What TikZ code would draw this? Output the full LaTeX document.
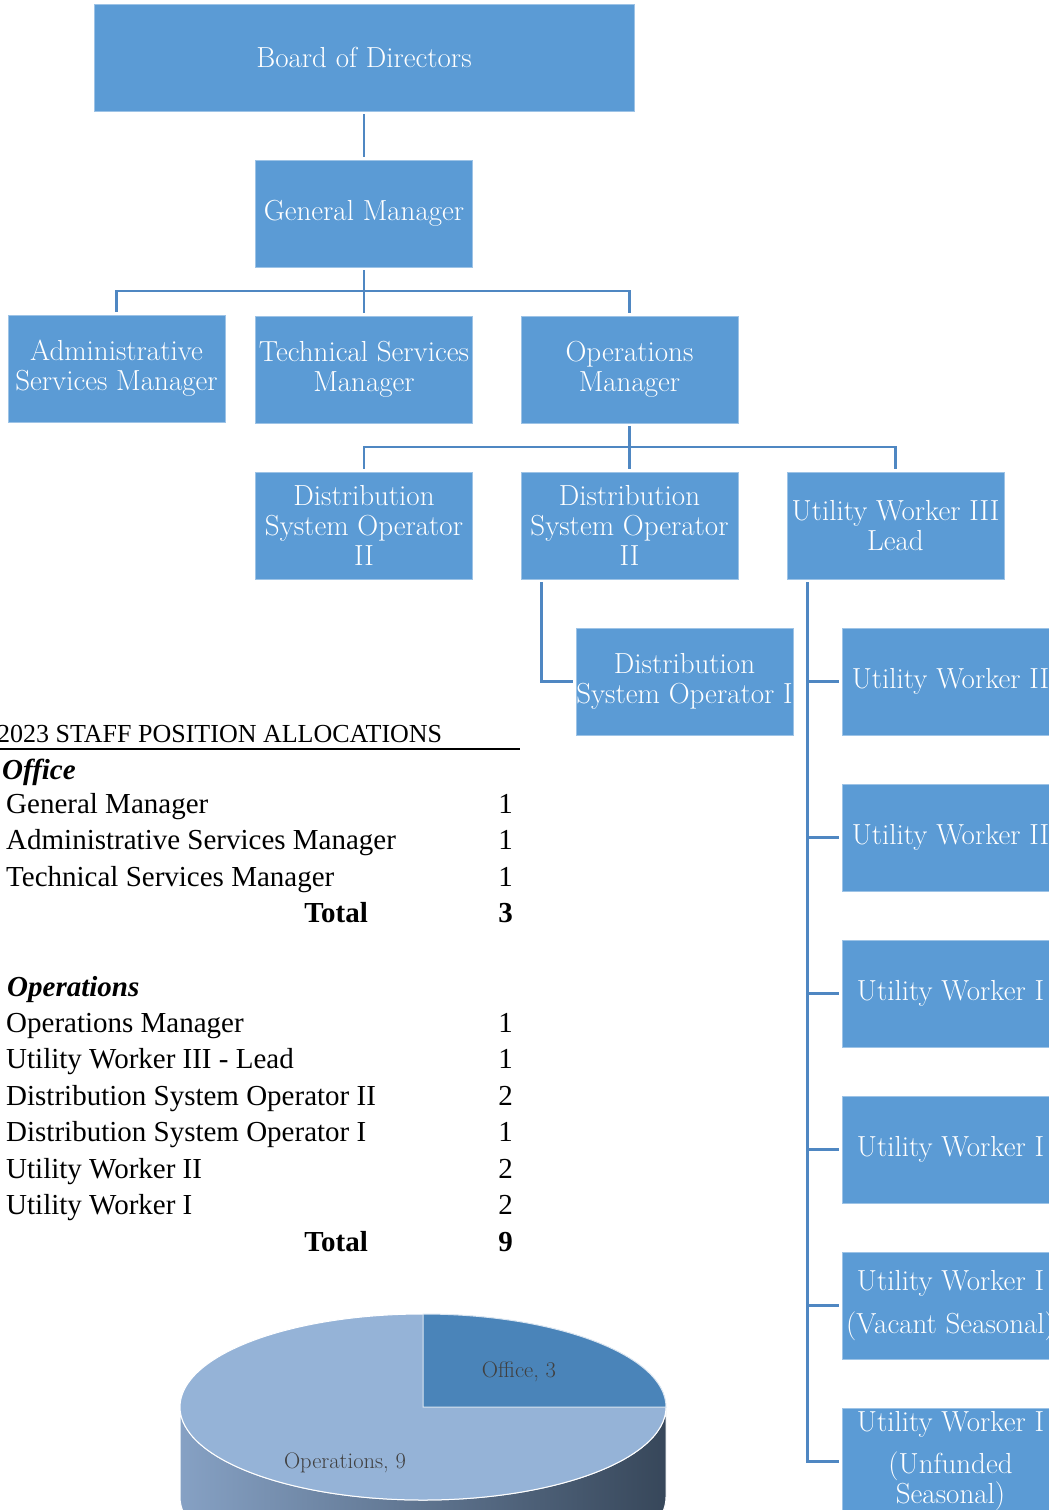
\documentclass[tikz,border=0pt]{standalone}
\usepackage{fontspec}
\newfontfamily\tabfont{Liberation Serif}
\usetikzlibrary{positioning}
\definecolor{boxblue}{HTML}{5B9BD5}
\definecolor{linkblue}{HTML}{4F87C2}
\definecolor{opsblue}{HTML}{95B3D7}
\definecolor{offblue}{HTML}{4A84B9}
\definecolor{sidelight}{HTML}{86A1C4}
\definecolor{sidedark}{HTML}{37475A}
\definecolor{labgray}{HTML}{404040}
\tikzset{
	posbox/.style  = {draw=boxblue!60!white, fill=boxblue, text=white, align=center,
		minimum width=217, minimum height=107, inner sep=0pt,
		font=\fontsize{29}{30}\selectfont},
	link/.style    = {draw=linkblue, line width=2.6pt, shorten <=3pt, shorten >=3pt},
	joint/.style   = {coordinate},
	row/.style     = {anchor=base west, inner sep=0pt, font=\tabfont\fontsize{29}{30}\selectfont},
	num/.style     = {anchor=base east, inner sep=0pt, font=\tabfont\fontsize{29}{30}\selectfont},
	pielabel/.style = {text=labgray, font=\fontsize{22.5}{26}\selectfont}
}

\begin{document}
\begin{tikzpicture}[x=1pt, y=-1pt]
	\useasboundingbox (0,0) rectangle (1049,1510);

	% chart boxes
	\node at (364,57.5)[posbox, minimum width=540] (board) {Board of Directors};
	\node at (364,213.5)[posbox] (gm) {General Manager};
	\node at (116.5,368.5)[posbox] (asm) {Administrative\\Services Manager};
	\node at (364,369.5)[posbox] (tsm) {Technical Services\\Manager};
	\node at (629.5,369.5)[posbox] (opsm) {Operations\\Manager};
	\node at (364,525.5)[posbox] (dsoa) {Distribution\\System Operator\\II};
	\node at (629.5,525.5)[posbox] (dsob) {Distribution\\System Operator\\II};
	\node at (895.5,525.5)[posbox] (uwlead) {Utility Worker III\\Lead};
	\node at (684.5,681.5)[posbox] (dsoi) {Distribution\\System Operator I};
	\node at (950.5,681.5)[posbox] (uwiia) {Utility Worker II};
	\node at (950.5,837.5)[posbox] (uwiib) {Utility Worker II};
	\node at (950.5,993.5)[posbox] (uwia) {Utility Worker I};
	\node at (950.5,1149.5)[posbox] (uwib) {Utility Worker I};
	\node at (950.5,1305.5)[posbox] (uwic) {Utility Worker I\\[13pt](Vacant Seasonal)};
	\node at (950.5,1461.5)[posbox] (uwid) {Utility Worker I\\[12pt](Unfunded\\Seasonal)};

	\node at (364,291)[joint] (bar1) {};
	\node at (629.5,447)[joint] (bar2) {};

	% connectors
	\draw[link] (board) -- (gm);
	\draw[link, shorten >=0pt] (gm) -- (bar1);
	\draw[link, shorten <=0pt] (bar1) -| (asm);
	\draw[link, shorten <=0pt] (bar1) -- (tsm);
	\draw[link, shorten <=0pt] (bar1) -| (opsm);
	\draw[link, shorten >=0pt] (opsm) -- (bar2);
	\draw[link, shorten <=0pt] (bar2) -| (dsoa);
	\draw[link, shorten <=0pt] (bar2) -- (dsob);
	\draw[link, shorten <=0pt] (bar2) -| (uwlead);
	\draw[link] ([xshift=-88]dsob.south) |- (dsoi);
	\draw[link] ([xshift=-88]uwlead.south) |- (uwiia);
	\draw[link] ([xshift=-88]uwlead.south) |- (uwiib);
	\draw[link] ([xshift=-88]uwlead.south) |- (uwia);
	\draw[link] ([xshift=-88]uwlead.south) |- (uwib);
	\draw[link] ([xshift=-88]uwlead.south) |- (uwic);
	\draw[link] ([xshift=-88]uwlead.south) |- (uwid);

	% allocation table
	\node at (-3,742)[row, font=\tabfont\fontsize{26}{30}\selectfont] (title) {2023 STAFF POSITION ALLOCATIONS};
	\draw[line width=2.4pt] (0,749) -- (520,749);
	\node at (2,779)[row, font=\tabfont\fontsize{29}{30}\selectfont\bfseries\itshape] (office) {Office};
	\node at (6,813)[row] (r1) {General Manager};
	\node at (513,813)[num] (n1) {1};
	\node at (6,849.5)[row] (r2) {Administrative Services Manager};
	\node at (513,849.5)[num] (n2) {1};
	\node at (6,886)[row] (r3) {Technical Services Manager};
	\node at (513,886)[num] (n3) {1};
	\node at (368,922.5)[num, font=\tabfont\fontsize{29}{30}\selectfont\bfseries] (tot1) {Total};
	\node at (513,922.5)[num, font=\tabfont\fontsize{29}{30}\selectfont\bfseries] (n4) {3};

	\node at (7,996)[row, font=\tabfont\fontsize{29}{30}\selectfont\bfseries\itshape] (ops) {Operations};
	\node at (6,1032)[row] (r5) {Operations Manager};
	\node at (513,1032)[num] (n5) {1};
	\node at (6,1068.5)[row] (r6) {Utility Worker III - Lead};
	\node at (513,1068.5)[num] (n6) {1};
	\node at (6,1105)[row] (r7) {Distribution System Operator II};
	\node at (513,1105)[num] (n7) {2};
	\node at (6,1141.5)[row] (r8) {Distribution System Operator I};
	\node at (513,1141.5)[num] (n8) {1};
	\node at (6,1178)[row] (r9) {Utility Worker II};
	\node at (513,1178)[num] (n9) {2};
	\node at (6,1214.5)[row] (r10) {Utility Worker I};
	\node at (513,1214.5)[num] (n10) {2};
	\node at (368,1251)[num, font=\tabfont\fontsize{29}{30}\selectfont\bfseries] (tot2) {Total};
	\node at (513,1251)[num, font=\tabfont\fontsize{29}{30}\selectfont\bfseries] (n11) {9};

	% pie chart
	\shade[left color=sidelight, right color=sidedark, draw=white, line width=1pt]
		(180,1407) -- (180,1497) arc[start angle=180, end angle=0, x radius=243, y radius=93]
		-- (666,1407) arc[start angle=0, end angle=180, x radius=243, y radius=93] -- cycle;
	\fill[opsblue, draw=white, line width=1pt] (423,1407) ellipse[x radius=243, y radius=93];
	\fill[offblue, draw=white!80!offblue, line width=1pt] (423,1407) -- (666,1407)
		arc[start angle=0, end angle=-90, x radius=243, y radius=93] -- cycle;
	\node at (519,1372)[pielabel] (offlab) {Office, 3};
	\node at (345,1463)[pielabel] (opslab) {Operations, 9};
\end{tikzpicture}
\end{document}
